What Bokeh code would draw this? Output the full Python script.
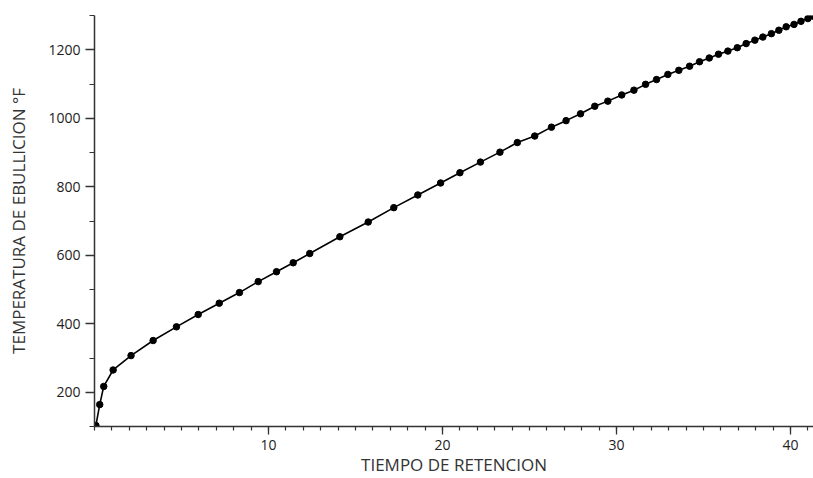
from bokeh.plotting import figure
from bokeh.models import Range1d, FixedTicker
from bokeh.embed import file_html
from bokeh.resources import INLINE

tiempo = [0.08, 0.3, 0.53, 1.07, 2.1, 3.37, 4.71, 5.96, 7.17, 8.33,
          9.41, 10.46, 11.42, 12.37, 14.1, 15.73, 17.2, 18.58, 19.89, 21.0,
          22.18, 23.3, 24.3, 25.3, 26.26, 27.1, 27.93, 28.75, 29.5, 30.3,
          31.0, 31.67, 32.3, 32.95, 33.58, 34.2, 34.77, 35.33, 35.86, 36.4,
          36.94, 37.45, 37.95, 38.41, 38.9, 39.33, 39.75, 40.2, 40.6, 41.0, 41.3]
temperatura = [103, 164, 217, 265, 307, 351, 391, 427, 460, 491,
               523, 552, 578, 605, 654, 697, 739, 776, 811, 841,
               872, 901, 929, 948, 974, 993, 1013, 1035, 1050, 1068,
               1082, 1099, 1113, 1128, 1140, 1152, 1165, 1176, 1187, 1196,
               1206, 1218, 1228, 1237, 1247, 1257, 1267, 1274, 1283, 1291, 1298]

x_major = [10, 20, 30, 40]
x_minor = list(range(0, 42))
y_major = [200, 400, 600, 800, 1000, 1200]
y_minor = list(range(100, 1301, 100))

p = figure(width=813, height=478, output_backend="svg", toolbar_location=None,
           x_range=Range1d(0, 41.32), y_range=Range1d(100, 1300),
           min_border_left=94, min_border_top=15, min_border_right=0,
           min_border_bottom=10)
p.outline_line_color = None
p.xgrid.visible = False
p.ygrid.visible = False
p.background_fill_color = "white"

p.line(tiempo, temperatura, line_color="black", line_width=1.6)
p.scatter(tiempo, temperatura, size=6.5, fill_color="black", line_color="black")

for ax in (p.xaxis[0], p.yaxis[0]):
    ax.axis_line_color = "#333333"
    ax.axis_line_width = 1.5
    ax.major_tick_line_color = "#333333"
    ax.minor_tick_line_color = "#333333"
    ax.major_tick_line_width = 1.3
    ax.minor_tick_line_width = 1.2
    ax.major_tick_in = 0
    ax.minor_tick_in = 0
    ax.major_label_text_font = "Open Sans"
    ax.major_label_text_font_size = "14px"
    ax.major_label_text_color = "#222222"
    ax.axis_label_text_font = "Open Sans"
    ax.axis_label_text_font_size = "17px"
    ax.axis_label_text_font_style = "normal"
    ax.axis_label_text_color = "#333333"

p.xaxis[0].ticker = FixedTicker(ticks=x_major, minor_ticks=x_minor)
p.yaxis[0].ticker = FixedTicker(ticks=y_major, minor_ticks=y_minor)
p.xaxis[0].major_tick_out = 8
p.xaxis[0].minor_tick_out = 4
p.yaxis[0].major_tick_out = 9
p.yaxis[0].minor_tick_out = 5
p.xaxis[0].major_label_standoff = 5
p.yaxis[0].major_label_standoff = 5
p.xaxis[0].axis_label = "TIEMPO DE RETENCION"
p.yaxis[0].axis_label = "TEMPERATURA DE EBULLICION °F"
p.xaxis[0].axis_label_standoff = 0
p.yaxis[0].axis_label_standoff = 15

open("out.html", "w").write(file_html(p, INLINE))
